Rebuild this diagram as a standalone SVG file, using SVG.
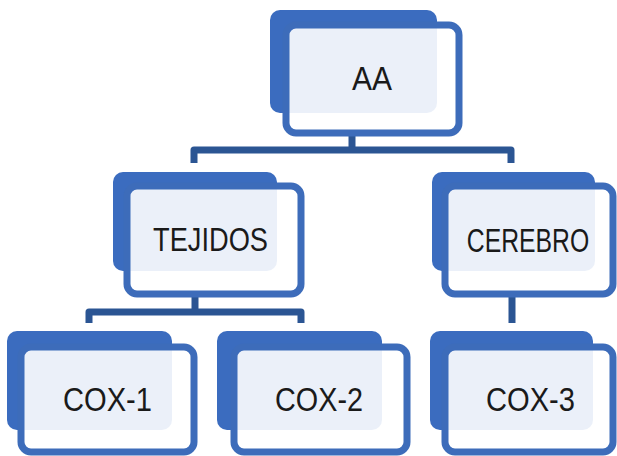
<svg xmlns="http://www.w3.org/2000/svg" width="617" height="456" viewBox="0 0 617 456">
  <style>
    .back { fill: #3b6cbf; }
    .front { fill: #ffffff; fill-opacity: 0.9; stroke: #3d6cba; stroke-width: 7; }
    .label { font-family: "Liberation Sans", Arial, sans-serif; font-size: 33px; fill: #1a1a1a; text-anchor: middle; }
    .link { fill: none; stroke: #2b5593; stroke-width: 7; stroke-linejoin: round; }
  </style>
  <rect width="617" height="456" fill="#ffffff"/>

  <!-- connectors -->
  <g id="connectors">
    <path class="link" d="M352 136 V150"/>
    <path class="link" d="M194 163 V150 H511 V163"/>
    <path class="link" d="M195 297 V312"/>
    <path class="link" d="M89 323 V312 H301 V323"/>
    <path class="link" d="M512 297 V323"/>
  </g>

  <!-- root -->
  <g id="node-aa">
    <rect class="back" x="270" y="10" width="167" height="103" rx="10"/>
    <rect class="front" x="286" y="25" width="173" height="108" rx="10"/>
    <text class="label" x="372" y="90" font-size="27" textLength="40" lengthAdjust="spacingAndGlyphs">AA</text>
  </g>

  <!-- second level -->
  <g id="node-tejidos">
    <rect class="back" x="113" y="172" width="164" height="99" rx="10"/>
    <rect class="front" x="127" y="186" width="174" height="108" rx="10"/>
    <text class="label" x="210.5" y="251" textLength="115" lengthAdjust="spacingAndGlyphs">TEJIDOS</text>
  </g>

  <g id="node-cerebro">
    <rect class="back" x="432" y="172" width="163" height="99" rx="10"/>
    <rect class="front" x="445" y="186" width="168" height="108" rx="10"/>
    <!-- horizontally condensed label -->
    <text class="label" transform="translate(528 252) scale(0.75 1)" x="0" y="0">CEREBRO</text>
  </g>

  <!-- third level -->
  <g id="node-cox1">
    <rect class="back" x="7" y="331" width="165" height="99" rx="10"/>
    <rect class="front" x="21" y="347" width="173" height="105" rx="10"/>
    <text class="label" x="107.5" y="411" textLength="89" lengthAdjust="spacingAndGlyphs">COX-1</text>
  </g>

  <g id="node-cox2">
    <rect class="back" x="217" y="331" width="165" height="99" rx="10"/>
    <rect class="front" x="234" y="347" width="173" height="105" rx="10"/>
    <text class="label" x="319" y="411" textLength="88" lengthAdjust="spacingAndGlyphs">COX-2</text>
  </g>

  <g id="node-cox3">
    <rect class="back" x="430" y="331" width="163" height="99" rx="10"/>
    <rect class="front" x="445" y="347" width="168" height="105" rx="10"/>
    <text class="label" x="530.5" y="411" textLength="89" lengthAdjust="spacingAndGlyphs">COX-3</text>
  </g>
</svg>
